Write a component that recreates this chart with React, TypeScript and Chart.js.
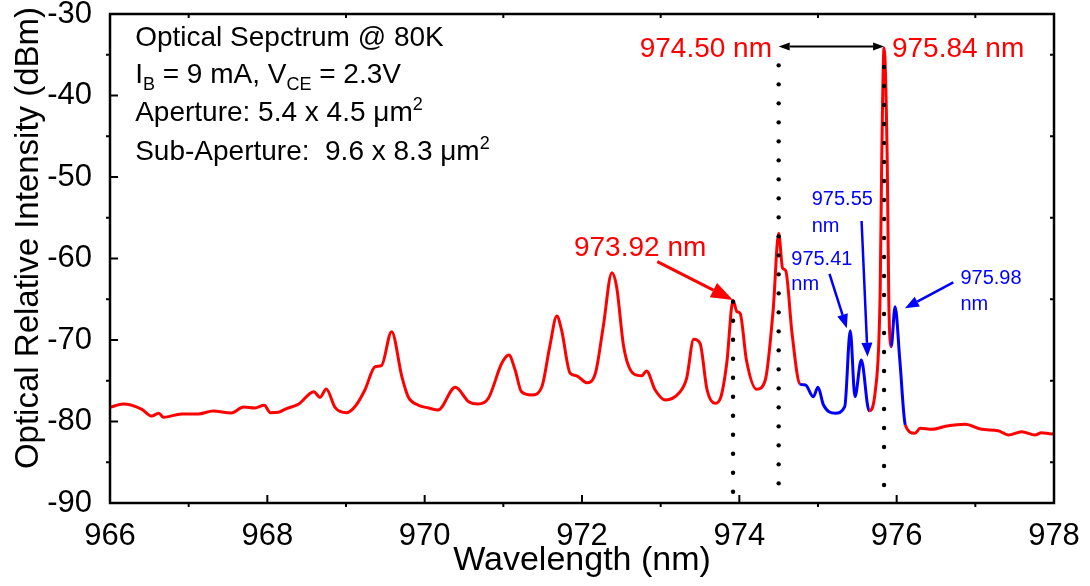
import React, { useEffect, useRef } from "react";
import { Chart, registerables } from "chart.js";

Chart.register(...registerables);

// ---------- data ----------
const wavelengthNm = [
  966.0, 966.17, 966.4, 966.53, 966.62, 966.68, 966.91, 967.12, 967.31, 967.54,
  967.7, 967.84, 967.96, 968.04, 968.14, 968.23, 968.4, 968.59, 968.67, 968.75,
  968.86, 969.01, 969.12, 969.24, 969.37, 969.45, 969.58, 969.71, 969.79, 969.92,
  970.05, 970.17, 970.39, 970.56, 970.68, 970.81, 970.98, 971.07, 971.15, 971.23,
  971.36, 971.49, 971.59, 971.68, 971.74, 971.85, 971.93, 972.06, 972.17, 972.27,
  972.38, 972.44, 972.53, 972.65, 972.76, 972.82, 972.93, 973.06, 973.23, 973.33,
  973.42, 973.5, 973.59, 973.69, 973.76, 973.84, 973.92, 973.97, 974.01, 974.09,
  974.22, 974.33, 974.43, 974.5, 974.55, 974.59, 974.67, 974.77, 974.84, 974.94,
  975.0, 975.07, 975.22, 975.34, 975.41, 975.47, 975.55, 975.65, 975.73, 975.79,
  975.81, 975.84, 975.88, 975.9, 975.93, 975.98, 976.04, 976.11, 976.23, 976.3,
  976.45, 976.64, 976.87, 977.08, 977.29, 977.42, 977.59, 977.76, 977.84, 977.97,
  978.0,
];
const intensityDbm = [
  -78.26, -77.85, -78.47, -79.33, -78.99, -79.48, -79.08, -79.08, -78.71, -78.96,
  -78.22, -78.34, -78.01, -78.92, -78.87, -78.47, -77.85, -76.34, -77.03, -76.01,
  -78.26, -78.92, -78.1, -76.13, -73.28, -73.15, -68.98, -74.5, -76.96, -78.01,
  -78.34, -78.59, -75.8, -77.57, -77.85, -77.15, -72.86, -71.84, -73.68, -76.34,
  -76.75, -75.73, -70.82, -67.06, -68.77, -74.09, -74.38, -75.24, -74.09, -68.37,
  -61.74, -63.46, -70.82, -74.09, -74.38, -73.8, -76.13, -77.36, -76.54, -74.7,
  -69.91, -70.4, -76.13, -77.77, -77.15, -72.86, -65.15, -66.53, -66.72, -72.45,
  -76.05, -74.91, -66.32, -56.91, -61.2, -61.5, -69.18, -75.4, -75.52, -76.96,
  -75.8, -77.98, -78.99, -78.18, -68.86, -76.96, -72.45, -78.67, -76.13, -64.27,
  -47.91, -34.17, -47.91, -65.09, -70.82, -65.91, -72.45, -80.43, -81.45, -80.83,
  -80.96, -80.55, -80.34, -80.96, -81.13, -81.66, -81.25, -81.66, -81.37, -81.53,
  -81.5,
];
// wavelength spans drawn in blue (side modes)
const blueRanges: number[][] = [
  [974.77, 975.65],
  [975.93, 976.11],
];
const xTickValues = [966, 968, 970, 972, 974, 976, 978];
const yTickValues = [-90, -80, -70, -60, -50, -40, -30];
const markerWavelengths = [973.92, 974.5, 975.84];
const markerTops = [-65.3, -36.3, -36.5];
const sidePeakLabels = ["975.41", "975.55", "975.98"];

// ---------- styles ----------
const FONT = "'Liberation Sans', Arial, Helvetica, sans-serif";
const RED = "#ff0000";
const BLUE = "#0000ff";
const BLACK = "#000000";

type Seg = { t: string; sub?: boolean; sup?: boolean };

function drawRich(ctx: CanvasRenderingContext2D, segs: Seg[], x: number, y: number, size: number, color: string) {
  ctx.save();
  ctx.fillStyle = color;
  ctx.textAlign = "left";
  ctx.textBaseline = "alphabetic";
  let cx = x;
  for (const s of segs) {
    let fs = size;
    let dy = 0;
    if (s.sub) { fs = Math.round(size * 0.66); dy = 7; }
    if (s.sup) { fs = Math.round(size * 0.66); dy = -11; }
    ctx.font = `${fs}px ${FONT}`;
    ctx.fillText(s.t, cx, y + dy);
    cx += ctx.measureText(s.t).width;
  }
  ctx.restore();
}

function arrowHead(ctx: CanvasRenderingContext2D, x1: number, y1: number, x2: number, y2: number, len: number, half: number) {
  const a = Math.atan2(y2 - y1, x2 - x1);
  const bx = x2 - len * Math.cos(a);
  const by = y2 - len * Math.sin(a);
  ctx.beginPath();
  ctx.moveTo(x2, y2);
  ctx.lineTo(bx + half * Math.sin(a), by - half * Math.cos(a));
  ctx.lineTo(bx - half * Math.sin(a), by + half * Math.cos(a));
  ctx.closePath();
  ctx.fill();
  return [bx, by];
}

function drawArrow(ctx: CanvasRenderingContext2D, x1: number, y1: number, x2: number, y2: number,
  color: string, lw: number, len: number, half: number, both = false) {
  ctx.save();
  ctx.strokeStyle = color;
  ctx.fillStyle = color;
  ctx.lineWidth = lw;
  let sx = x1, sy = y1;
  if (both) {
    const [bx, by] = arrowHead(ctx, x2, y2, x1, y1, len, half);
    sx = bx; sy = by;
  }
  const [ex, ey] = arrowHead(ctx, x1, y1, x2, y2, len, half);
  ctx.beginPath();
  ctx.moveTo(sx, sy);
  ctx.lineTo(ex, ey);
  ctx.stroke();
  ctx.restore();
}

const overlayPlugin = {
  id: "overlay",
  afterDatasetsDraw(chart: any) {
    const ctx: CanvasRenderingContext2D = chart.ctx;
    const xs = chart.scales.x;
    const ys = chart.scales.y;
    const { left, right, top, bottom } = chart.chartArea;
    const X = (v: number) => xs.getPixelForValue(v);
    const Y = (v: number) => ys.getPixelForValue(v);

    // dotted vertical markers
    ctx.save();
    ctx.fillStyle = BLACK;
    markerWavelengths.forEach((w, i) => {
      const px = X(w);
      for (let py = Y(markerTops[i]); py <= bottom - 4; py += 19) {
        ctx.beginPath();
        ctx.arc(px, py, 2.2, 0, Math.PI * 2);
        ctx.fill();
      }
    });
    ctx.restore();

    // frame
    ctx.save();
    ctx.strokeStyle = BLACK;
    ctx.lineWidth = 2.5;
    ctx.strokeRect(left, top, right - left, bottom - top);
    ctx.lineWidth = 2;
    ctx.beginPath();
    for (let v = 966; v <= 978; v += 1) {
      const px = X(v);
      if (v % 2 === 0) {
        ctx.moveTo(px, bottom); ctx.lineTo(px, bottom - 8);
      } else {
        ctx.moveTo(px, bottom); ctx.lineTo(px, bottom + 4);
        ctx.moveTo(px, top); ctx.lineTo(px, top + 4);
      }
    }
    for (let v = -90; v <= -30; v += 5) {
      const py = Y(v);
      if (v % 10 === 0) {
        ctx.moveTo(left, py); ctx.lineTo(left + 8, py);
      } else {
        ctx.moveTo(left, py); ctx.lineTo(left - 4, py);
        ctx.moveTo(right, py); ctx.lineTo(right - 4, py);
      }
    }
    ctx.stroke();
    ctx.restore();

    // y-axis title
    ctx.save();
    ctx.translate(27, 238);
    ctx.rotate(-Math.PI / 2);
    ctx.fillStyle = BLACK;
    ctx.font = `33px ${FONT}`;
    ctx.textAlign = "center";
    ctx.textBaseline = "middle";
    ctx.fillText("Optical Relative Intensity (dBm)", 0, 2);
    ctx.restore();

    // info block
    const infoX = X(966.32);
    drawRich(ctx, [{ t: "Optical Sepctrum @ 80K" }], infoX, Y(-33.93), 28, BLACK);
    drawRich(ctx, [{ t: "I" }, { t: "B", sub: true }, { t: " = 9 mA, V" }, { t: "CE", sub: true }, { t: " = 2.3V" }], infoX, Y(-38.47), 28, BLACK);
    drawRich(ctx, [{ t: "Aperture: 5.4 x 4.5 \u03bcm" }, { t: "2", sup: true }], infoX, Y(-43.13), 28, BLACK);
    drawRich(ctx, [{ t: "Sub-Aperture:  9.6 x 8.3 \u03bcm" }, { t: "2", sup: true }], infoX, Y(-47.91), 28, BLACK);

    // main mode spacing arrow and labels
    drawArrow(ctx, X(974.5), Y(-34.0), X(975.84), Y(-34.0), BLACK, 2, 11, 4, true);
    ctx.save();
    ctx.font = `28px ${FONT}`;
    ctx.fillStyle = RED;
    ctx.textBaseline = "alphabetic";
    ctx.textAlign = "right";
    ctx.fillText("974.50 nm", X(974.415), Y(-35.28));
    ctx.textAlign = "left";
    ctx.fillText("975.84 nm", X(975.94), Y(-35.28));
    ctx.fillText("973.92 nm", X(971.898), Y(-59.75));
    ctx.restore();
    drawArrow(ctx, X(972.957), Y(-60.39), X(973.92), Y(-65.1), RED, 3, 22, 8);

    // side modes (blue)
    ctx.save();
    ctx.font = `20px ${FONT}`;
    ctx.fillStyle = BLUE;
    ctx.textAlign = "left";
    ctx.textBaseline = "alphabetic";
    ctx.fillText(sidePeakLabels[0], X(974.66), Y(-60.8));
    ctx.fillText("nm", X(974.66), Y(-63.87));
    ctx.fillText(sidePeakLabels[1], X(974.92), Y(-53.44));
    ctx.fillText("nm", X(974.92), Y(-56.71));
    ctx.fillText(sidePeakLabels[2], X(976.81), Y(-63.13));
    ctx.fillText("nm", X(976.81), Y(-66.32));
    ctx.restore();
    drawArrow(ctx, X(975.146), Y(-61.9), X(975.366), Y(-68.56), BLUE, 2.5, 14, 5.5);
    drawArrow(ctx, X(975.554), Y(-55.4), X(975.63), Y(-72.05), BLUE, 2.5, 14, 5.5);
    drawArrow(ctx, X(976.72), Y(-62.92), X(976.105), Y(-66.11), BLUE, 2.5, 14, 5.5);
  },
};

export default function App() {
  const canvasRef = useRef<HTMLCanvasElement | null>(null);

  useEffect(() => {
    if (!canvasRef.current) return;
    const points = wavelengthNm.map((x, i) => ({ x, y: intensityDbm[i] }));
    const isBlue = (a: number, b: number) =>
      blueRanges.some(([s, e]) => a >= s - 1e-6 && b <= e + 1e-6);

    const chart = new Chart(canvasRef.current, {
      type: "line",
      data: {
        datasets: [
          {
            label: "Spectrum",
            data: points,
            borderColor: RED,
            borderWidth: 3,
            pointRadius: 0,
            fill: false,
            cubicInterpolationMode: "monotone",
            segment: {
              borderColor: (c: any) => (isBlue(c.p0.parsed.x, c.p1.parsed.x) ? BLUE : RED),
            },
          } as any,
        ],
      },
      options: {
        animation: false,
        responsive: false,
        layout: { padding: { left: 0, right: 36, top: 14, bottom: 0 } },
        plugins: { legend: { display: false }, tooltip: { enabled: false } },
        scales: {
          x: {
            type: "linear",
            min: 966,
            max: 978,
            afterBuildTicks: (s: any) => {
              s.ticks = xTickValues.map((v) => ({ value: v }));
            },
            ticks: {
              font: { family: FONT, size: 31 },
              color: BLACK,
              padding: 7,
              maxRotation: 0,
              autoSkip: false,
            },
            grid: { display: false },
            border: { display: false },
            title: {
              display: true,
              text: "Wavelength (nm)",
              font: { family: FONT, size: 34 },
              color: BLACK,
              padding: { top: 0, bottom: 5 },
            },
            afterFit: (s: any) => {
              s.height = 83;
              s.paddingLeft = 0;
              s.paddingRight = 0;
            },
          },
          y: {
            type: "linear",
            min: -90,
            max: -30,
            afterBuildTicks: (s: any) => {
              s.ticks = yTickValues.map((v) => ({ value: v }));
            },
            ticks: {
              font: { family: FONT, size: 31 },
              color: BLACK,
              padding: 10,
              autoSkip: false,
            },
            grid: { display: false },
            border: { display: false },
            afterFit: (s: any) => {
              s.width = 110;
              s.paddingTop = 0;
              s.paddingBottom = 0;
            },
          },
        },
      } as any,
      plugins: [overlayPlugin],
    });
    return () => chart.destroy();
  }, []);

  return (
    <div style={{ position: "absolute", left: 0, top: 0, width: 1090, height: 586, background: "#fff" }}>
      <canvas ref={canvasRef} width={1090} height={586} />
    </div>
  );
}
